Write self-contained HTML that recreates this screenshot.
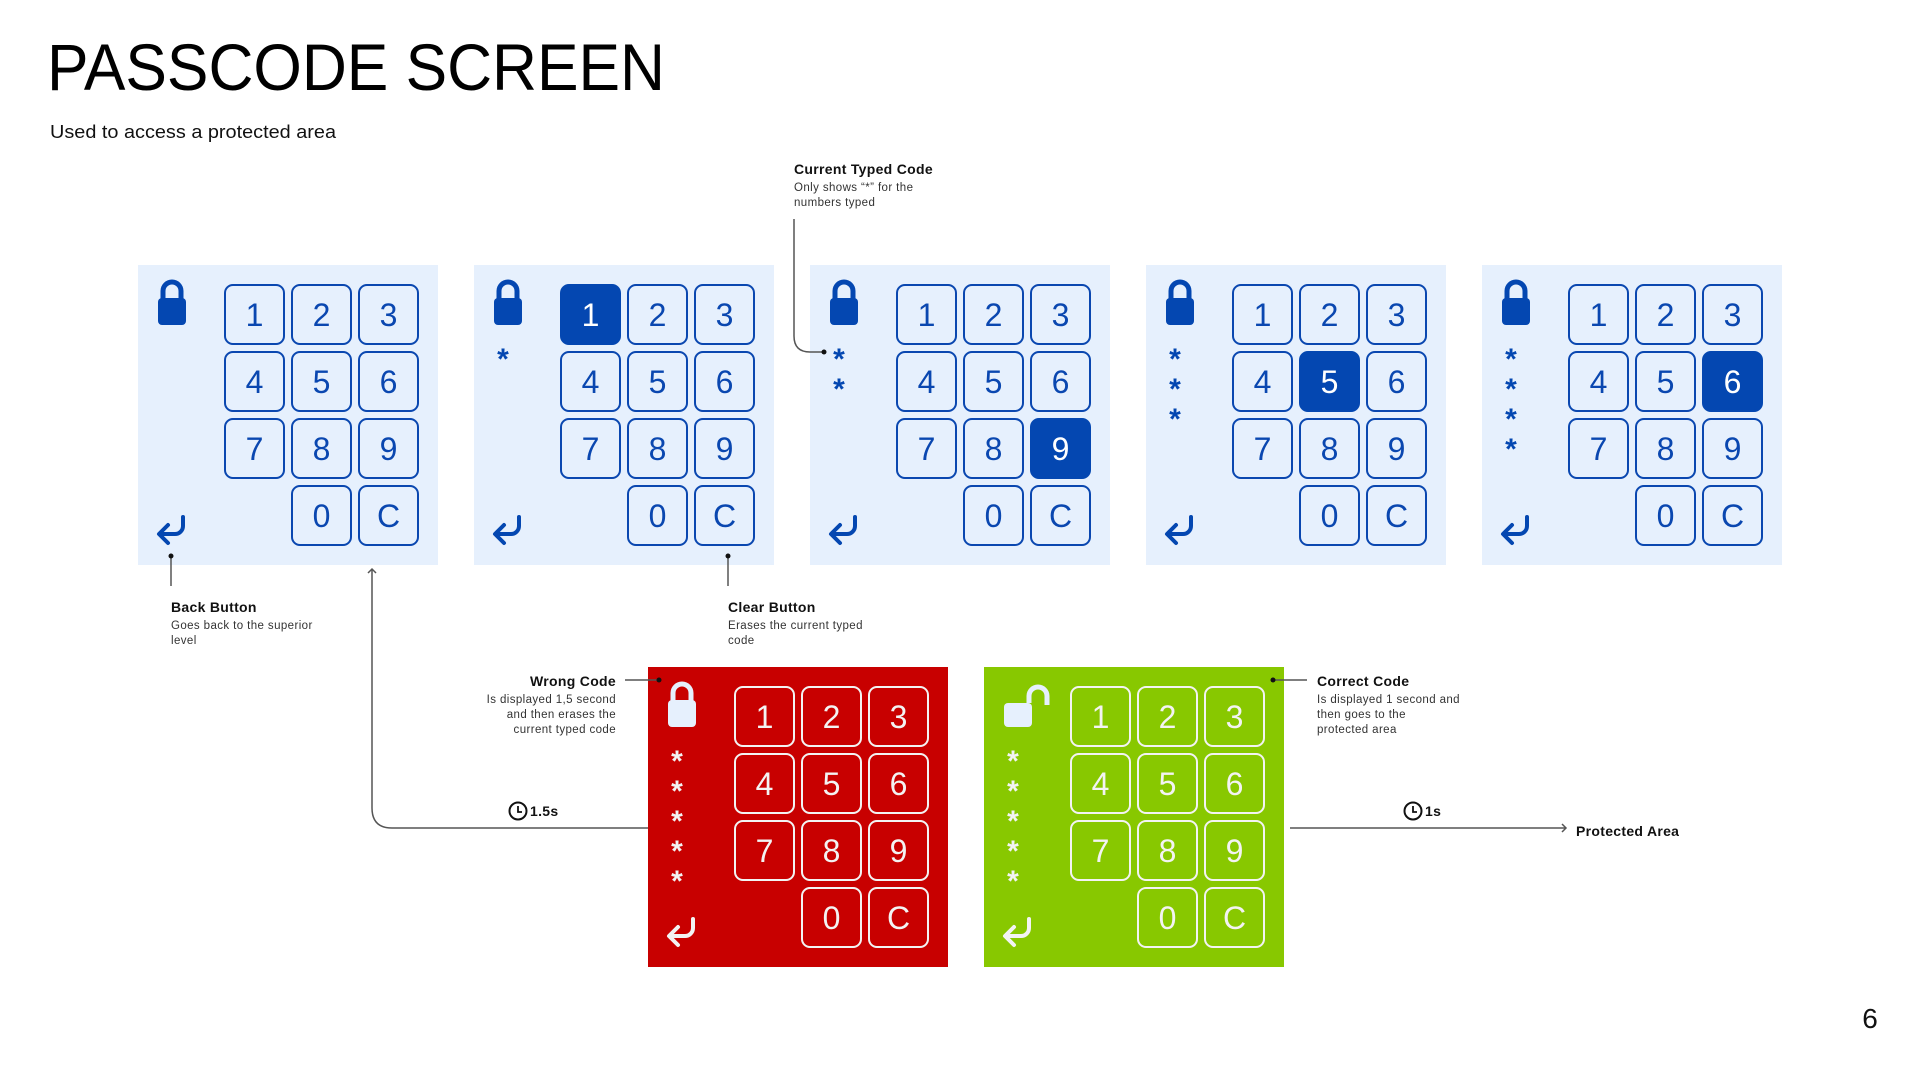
<!DOCTYPE html>
<html><head><meta charset="utf-8"><style>
html,body{margin:0;padding:0;background:#fff;}
svg{display:block;}
text{font-family:"Liberation Sans",sans-serif;}
.k{fill:none;stroke:#0a47b0;stroke-width:2;}
.kh{fill:#0447b1;stroke:#0447b1;stroke-width:2;}
.t{fill:#0a47b0;font-size:32px;text-anchor:middle;}
.th{fill:#fff;font-size:32px;text-anchor:middle;}
.w .k{stroke:#f3f3f3;}
.w .t{fill:#f3f3f3;}
.ast{font-size:30px;font-weight:bold;text-anchor:middle;}
.ln{fill:none;stroke:#555;stroke-width:1.5;}
.b{font-size:14px;font-weight:bold;fill:#111;letter-spacing:0.3px;}
.d{font-size:11.5px;fill:#333;letter-spacing:0.4px;}
</style></head><body>
<svg width="1920" height="1080" viewBox="0 0 1920 1080" xmlns="http://www.w3.org/2000/svg">
<text x="47" y="90" font-size="66" fill="#000" textLength="618" lengthAdjust="spacingAndGlyphs">PASSCODE SCREEN</text>
<text x="50" y="138" font-size="18" fill="#111" textLength="286" lengthAdjust="spacingAndGlyphs">Used to access a protected area</text>
<text x="1870" y="1028" font-size="28" fill="#111" text-anchor="middle">6</text>

<!-- Panel 1 -->
<g transform="translate(138,265)">
<rect width="300" height="300" fill="#e6f0fd"/>
<path d="M25,35 v-9 a9,9 0 0 1 18,0 v9" fill="none" stroke="#0447b1" stroke-width="5"/>
<rect x="20" y="33" width="28" height="27" rx="4" fill="#0447b1"/>
<path d="M45,252 v9 a8,8 0 0 1 -8,8 h-15 M30,260 l-9,9 l9,9" fill="none" stroke="#0447b1" stroke-width="4" stroke-linecap="round" stroke-linejoin="round"/>
<rect class="k" x="87" y="20" width="59" height="59" rx="8"/><rect class="k" x="154" y="20" width="59" height="59" rx="8"/><rect class="k" x="221" y="20" width="59" height="59" rx="8"/>
<rect class="k" x="87" y="87" width="59" height="59" rx="8"/><rect class="k" x="154" y="87" width="59" height="59" rx="8"/><rect class="k" x="221" y="87" width="59" height="59" rx="8"/>
<rect class="k" x="87" y="154" width="59" height="59" rx="8"/><rect class="k" x="154" y="154" width="59" height="59" rx="8"/><rect class="k" x="221" y="154" width="59" height="59" rx="8"/>
<rect class="k" x="154" y="221" width="59" height="59" rx="8"/><rect class="k" x="221" y="221" width="59" height="59" rx="8"/>
<text class="t" x="116.5" y="61">1</text><text class="t" x="183.5" y="61">2</text><text class="t" x="250.5" y="61">3</text>
<text class="t" x="116.5" y="128">4</text><text class="t" x="183.5" y="128">5</text><text class="t" x="250.5" y="128">6</text>
<text class="t" x="116.5" y="195">7</text><text class="t" x="183.5" y="195">8</text><text class="t" x="250.5" y="195">9</text>
<text class="t" x="183.5" y="262">0</text><text class="t" x="250.5" y="262">C</text>
</g>

<!-- Panel 2 -->
<g transform="translate(474,265)">
<rect width="300" height="300" fill="#e6f0fd"/>
<path d="M25,35 v-9 a9,9 0 0 1 18,0 v9" fill="none" stroke="#0447b1" stroke-width="5"/>
<rect x="20" y="33" width="28" height="27" rx="4" fill="#0447b1"/>
<path d="M45,252 v9 a8,8 0 0 1 -8,8 h-15 M30,260 l-9,9 l9,9" fill="none" stroke="#0447b1" stroke-width="4" stroke-linecap="round" stroke-linejoin="round"/>
<text class="ast" fill="#0447b1" x="29" y="104">*</text>
<rect class="kh" x="87" y="20" width="59" height="59" rx="8"/><rect class="k" x="154" y="20" width="59" height="59" rx="8"/><rect class="k" x="221" y="20" width="59" height="59" rx="8"/>
<rect class="k" x="87" y="87" width="59" height="59" rx="8"/><rect class="k" x="154" y="87" width="59" height="59" rx="8"/><rect class="k" x="221" y="87" width="59" height="59" rx="8"/>
<rect class="k" x="87" y="154" width="59" height="59" rx="8"/><rect class="k" x="154" y="154" width="59" height="59" rx="8"/><rect class="k" x="221" y="154" width="59" height="59" rx="8"/>
<rect class="k" x="154" y="221" width="59" height="59" rx="8"/><rect class="k" x="221" y="221" width="59" height="59" rx="8"/>
<text class="th" x="116.5" y="61">1</text><text class="t" x="183.5" y="61">2</text><text class="t" x="250.5" y="61">3</text>
<text class="t" x="116.5" y="128">4</text><text class="t" x="183.5" y="128">5</text><text class="t" x="250.5" y="128">6</text>
<text class="t" x="116.5" y="195">7</text><text class="t" x="183.5" y="195">8</text><text class="t" x="250.5" y="195">9</text>
<text class="t" x="183.5" y="262">0</text><text class="t" x="250.5" y="262">C</text>
</g>

<!-- Panel 3 -->
<g transform="translate(810,265)">
<rect width="300" height="300" fill="#e6f0fd"/>
<path d="M25,35 v-9 a9,9 0 0 1 18,0 v9" fill="none" stroke="#0447b1" stroke-width="5"/>
<rect x="20" y="33" width="28" height="27" rx="4" fill="#0447b1"/>
<path d="M45,252 v9 a8,8 0 0 1 -8,8 h-15 M30,260 l-9,9 l9,9" fill="none" stroke="#0447b1" stroke-width="4" stroke-linecap="round" stroke-linejoin="round"/>
<text class="ast" fill="#0447b1" x="29" y="104">*</text><text class="ast" fill="#0447b1" x="29" y="134">*</text>
<rect class="k" x="87" y="20" width="59" height="59" rx="8"/><rect class="k" x="154" y="20" width="59" height="59" rx="8"/><rect class="k" x="221" y="20" width="59" height="59" rx="8"/>
<rect class="k" x="87" y="87" width="59" height="59" rx="8"/><rect class="k" x="154" y="87" width="59" height="59" rx="8"/><rect class="k" x="221" y="87" width="59" height="59" rx="8"/>
<rect class="k" x="87" y="154" width="59" height="59" rx="8"/><rect class="k" x="154" y="154" width="59" height="59" rx="8"/><rect class="kh" x="221" y="154" width="59" height="59" rx="8"/>
<rect class="k" x="154" y="221" width="59" height="59" rx="8"/><rect class="k" x="221" y="221" width="59" height="59" rx="8"/>
<text class="t" x="116.5" y="61">1</text><text class="t" x="183.5" y="61">2</text><text class="t" x="250.5" y="61">3</text>
<text class="t" x="116.5" y="128">4</text><text class="t" x="183.5" y="128">5</text><text class="t" x="250.5" y="128">6</text>
<text class="t" x="116.5" y="195">7</text><text class="t" x="183.5" y="195">8</text><text class="th" x="250.5" y="195">9</text>
<text class="t" x="183.5" y="262">0</text><text class="t" x="250.5" y="262">C</text>
</g>

<!-- Panel 4 -->
<g transform="translate(1146,265)">
<rect width="300" height="300" fill="#e6f0fd"/>
<path d="M25,35 v-9 a9,9 0 0 1 18,0 v9" fill="none" stroke="#0447b1" stroke-width="5"/>
<rect x="20" y="33" width="28" height="27" rx="4" fill="#0447b1"/>
<path d="M45,252 v9 a8,8 0 0 1 -8,8 h-15 M30,260 l-9,9 l9,9" fill="none" stroke="#0447b1" stroke-width="4" stroke-linecap="round" stroke-linejoin="round"/>
<text class="ast" fill="#0447b1" x="29" y="104">*</text><text class="ast" fill="#0447b1" x="29" y="134">*</text><text class="ast" fill="#0447b1" x="29" y="164">*</text>
<rect class="k" x="87" y="20" width="59" height="59" rx="8"/><rect class="k" x="154" y="20" width="59" height="59" rx="8"/><rect class="k" x="221" y="20" width="59" height="59" rx="8"/>
<rect class="k" x="87" y="87" width="59" height="59" rx="8"/><rect class="kh" x="154" y="87" width="59" height="59" rx="8"/><rect class="k" x="221" y="87" width="59" height="59" rx="8"/>
<rect class="k" x="87" y="154" width="59" height="59" rx="8"/><rect class="k" x="154" y="154" width="59" height="59" rx="8"/><rect class="k" x="221" y="154" width="59" height="59" rx="8"/>
<rect class="k" x="154" y="221" width="59" height="59" rx="8"/><rect class="k" x="221" y="221" width="59" height="59" rx="8"/>
<text class="t" x="116.5" y="61">1</text><text class="t" x="183.5" y="61">2</text><text class="t" x="250.5" y="61">3</text>
<text class="t" x="116.5" y="128">4</text><text class="th" x="183.5" y="128">5</text><text class="t" x="250.5" y="128">6</text>
<text class="t" x="116.5" y="195">7</text><text class="t" x="183.5" y="195">8</text><text class="t" x="250.5" y="195">9</text>
<text class="t" x="183.5" y="262">0</text><text class="t" x="250.5" y="262">C</text>
</g>

<!-- Panel 5 -->
<g transform="translate(1482,265)">
<rect width="300" height="300" fill="#e6f0fd"/>
<path d="M25,35 v-9 a9,9 0 0 1 18,0 v9" fill="none" stroke="#0447b1" stroke-width="5"/>
<rect x="20" y="33" width="28" height="27" rx="4" fill="#0447b1"/>
<path d="M45,252 v9 a8,8 0 0 1 -8,8 h-15 M30,260 l-9,9 l9,9" fill="none" stroke="#0447b1" stroke-width="4" stroke-linecap="round" stroke-linejoin="round"/>
<text class="ast" fill="#0447b1" x="29" y="104">*</text><text class="ast" fill="#0447b1" x="29" y="134">*</text><text class="ast" fill="#0447b1" x="29" y="164">*</text><text class="ast" fill="#0447b1" x="29" y="194">*</text>
<rect class="k" x="87" y="20" width="59" height="59" rx="8"/><rect class="k" x="154" y="20" width="59" height="59" rx="8"/><rect class="k" x="221" y="20" width="59" height="59" rx="8"/>
<rect class="k" x="87" y="87" width="59" height="59" rx="8"/><rect class="k" x="154" y="87" width="59" height="59" rx="8"/><rect class="kh" x="221" y="87" width="59" height="59" rx="8"/>
<rect class="k" x="87" y="154" width="59" height="59" rx="8"/><rect class="k" x="154" y="154" width="59" height="59" rx="8"/><rect class="k" x="221" y="154" width="59" height="59" rx="8"/>
<rect class="k" x="154" y="221" width="59" height="59" rx="8"/><rect class="k" x="221" y="221" width="59" height="59" rx="8"/>
<text class="t" x="116.5" y="61">1</text><text class="t" x="183.5" y="61">2</text><text class="t" x="250.5" y="61">3</text>
<text class="t" x="116.5" y="128">4</text><text class="t" x="183.5" y="128">5</text><text class="th" x="250.5" y="128">6</text>
<text class="t" x="116.5" y="195">7</text><text class="t" x="183.5" y="195">8</text><text class="t" x="250.5" y="195">9</text>
<text class="t" x="183.5" y="262">0</text><text class="t" x="250.5" y="262">C</text>
</g>

<!-- Red panel -->
<g class="w" transform="translate(648,667)">
<rect width="300" height="300" fill="#c80000"/>
<path d="M25,35 v-9 a9,9 0 0 1 18,0 v9" fill="none" stroke="#e6f0fd" stroke-width="5"/>
<rect x="20" y="33" width="28" height="27" rx="4" fill="#e6f0fd"/>
<path d="M45,252 v9 a8,8 0 0 1 -8,8 h-15 M30,260 l-9,9 l9,9" fill="none" stroke="#f3f3f3" stroke-width="4" stroke-linecap="round" stroke-linejoin="round"/>
<text class="ast" fill="#f3f3f3" x="29" y="104">*</text><text class="ast" fill="#f3f3f3" x="29" y="134">*</text><text class="ast" fill="#f3f3f3" x="29" y="164">*</text><text class="ast" fill="#f3f3f3" x="29" y="194">*</text><text class="ast" fill="#f3f3f3" x="29" y="224">*</text>
<rect class="k" x="87" y="20" width="59" height="59" rx="8"/><rect class="k" x="154" y="20" width="59" height="59" rx="8"/><rect class="k" x="221" y="20" width="59" height="59" rx="8"/>
<rect class="k" x="87" y="87" width="59" height="59" rx="8"/><rect class="k" x="154" y="87" width="59" height="59" rx="8"/><rect class="k" x="221" y="87" width="59" height="59" rx="8"/>
<rect class="k" x="87" y="154" width="59" height="59" rx="8"/><rect class="k" x="154" y="154" width="59" height="59" rx="8"/><rect class="k" x="221" y="154" width="59" height="59" rx="8"/>
<rect class="k" x="154" y="221" width="59" height="59" rx="8"/><rect class="k" x="221" y="221" width="59" height="59" rx="8"/>
<text class="t" x="116.5" y="61">1</text><text class="t" x="183.5" y="61">2</text><text class="t" x="250.5" y="61">3</text>
<text class="t" x="116.5" y="128">4</text><text class="t" x="183.5" y="128">5</text><text class="t" x="250.5" y="128">6</text>
<text class="t" x="116.5" y="195">7</text><text class="t" x="183.5" y="195">8</text><text class="t" x="250.5" y="195">9</text>
<text class="t" x="183.5" y="262">0</text><text class="t" x="250.5" y="262">C</text>
</g>

<!-- Green panel -->
<g class="w" transform="translate(984,667)">
<rect width="300" height="300" fill="#88c800"/>
<path d="M45,36 v-7 a9,9 0 0 1 18,0 v9" fill="none" stroke="#e6f0fd" stroke-width="5"/>
<rect x="20" y="36" width="28" height="24" rx="4" fill="#e6f0fd"/>
<path d="M45,252 v9 a8,8 0 0 1 -8,8 h-15 M30,260 l-9,9 l9,9" fill="none" stroke="#f3f3f3" stroke-width="4" stroke-linecap="round" stroke-linejoin="round"/>
<text class="ast" fill="#f3f3f3" x="29" y="104">*</text><text class="ast" fill="#f3f3f3" x="29" y="134">*</text><text class="ast" fill="#f3f3f3" x="29" y="164">*</text><text class="ast" fill="#f3f3f3" x="29" y="194">*</text><text class="ast" fill="#f3f3f3" x="29" y="224">*</text>
<rect class="k" x="87" y="20" width="59" height="59" rx="8"/><rect class="k" x="154" y="20" width="59" height="59" rx="8"/><rect class="k" x="221" y="20" width="59" height="59" rx="8"/>
<rect class="k" x="87" y="87" width="59" height="59" rx="8"/><rect class="k" x="154" y="87" width="59" height="59" rx="8"/><rect class="k" x="221" y="87" width="59" height="59" rx="8"/>
<rect class="k" x="87" y="154" width="59" height="59" rx="8"/><rect class="k" x="154" y="154" width="59" height="59" rx="8"/><rect class="k" x="221" y="154" width="59" height="59" rx="8"/>
<rect class="k" x="154" y="221" width="59" height="59" rx="8"/><rect class="k" x="221" y="221" width="59" height="59" rx="8"/>
<text class="t" x="116.5" y="61">1</text><text class="t" x="183.5" y="61">2</text><text class="t" x="250.5" y="61">3</text>
<text class="t" x="116.5" y="128">4</text><text class="t" x="183.5" y="128">5</text><text class="t" x="250.5" y="128">6</text>
<text class="t" x="116.5" y="195">7</text><text class="t" x="183.5" y="195">8</text><text class="t" x="250.5" y="195">9</text>
<text class="t" x="183.5" y="262">0</text><text class="t" x="250.5" y="262">C</text>
</g>

<!-- Connectors -->
<path class="ln" d="M794,219 V336 Q794,352 810,352 H824"/><circle cx="824" cy="352" r="2.5" fill="#111"/>
<path class="ln" d="M171,556 V586"/><circle cx="171" cy="556" r="2.5" fill="#111"/>
<path class="ln" d="M728,556 V586"/><circle cx="728" cy="556" r="2.5" fill="#111"/>
<path class="ln" d="M625,680 H659"/><circle cx="659" cy="680" r="2.5" fill="#111"/>
<path class="ln" d="M1273,680 H1307"/><circle cx="1273" cy="680" r="2.5" fill="#111"/>
<path class="ln" d="M648,828 H392 Q372,828 372,808 V569"/><path class="ln" d="M368,573 L372,569 L376,573"/>
<path class="ln" d="M1290,828 H1566"/><path class="ln" d="M1562,824 L1566,828 L1562,832"/>

<!-- Clocks -->
<circle cx="518" cy="811" r="8.5" fill="none" stroke="#111" stroke-width="2"/><path d="M518,806 V812 H522" fill="none" stroke="#111" stroke-width="1.8"/>
<text class="b" x="530" y="816">1.5s</text>
<circle cx="1413" cy="811" r="8.5" fill="none" stroke="#111" stroke-width="2"/><path d="M1413,806 V812 H1417" fill="none" stroke="#111" stroke-width="1.8"/>
<text class="b" x="1425" y="816">1s</text>
<text class="b" x="1576" y="836" font-size="15.5">Protected Area</text>

<!-- Annotations -->
<text class="b" x="794" y="174">Current Typed Code</text>
<text class="d" x="794" y="191">Only shows “*” for the</text>
<text class="d" x="794" y="206">numbers typed</text>

<text class="b" x="171" y="612">Back Button</text>
<text class="d" x="171" y="629">Goes back to the superior</text>
<text class="d" x="171" y="644">level</text>

<text class="b" x="728" y="612">Clear Button</text>
<text class="d" x="728" y="629">Erases the current typed</text>
<text class="d" x="728" y="644">code</text>

<text class="b" x="616" y="686" text-anchor="end">Wrong Code</text>
<text class="d" x="616" y="703" text-anchor="end">Is displayed 1,5 second</text>
<text class="d" x="616" y="718" text-anchor="end">and then erases the</text>
<text class="d" x="616" y="733" text-anchor="end">current typed code</text>

<text class="b" x="1317" y="686">Correct Code</text>
<text class="d" x="1317" y="703">Is displayed 1 second and</text>
<text class="d" x="1317" y="718">then goes to the</text>
<text class="d" x="1317" y="733">protected area</text>
</svg>
</body></html>
